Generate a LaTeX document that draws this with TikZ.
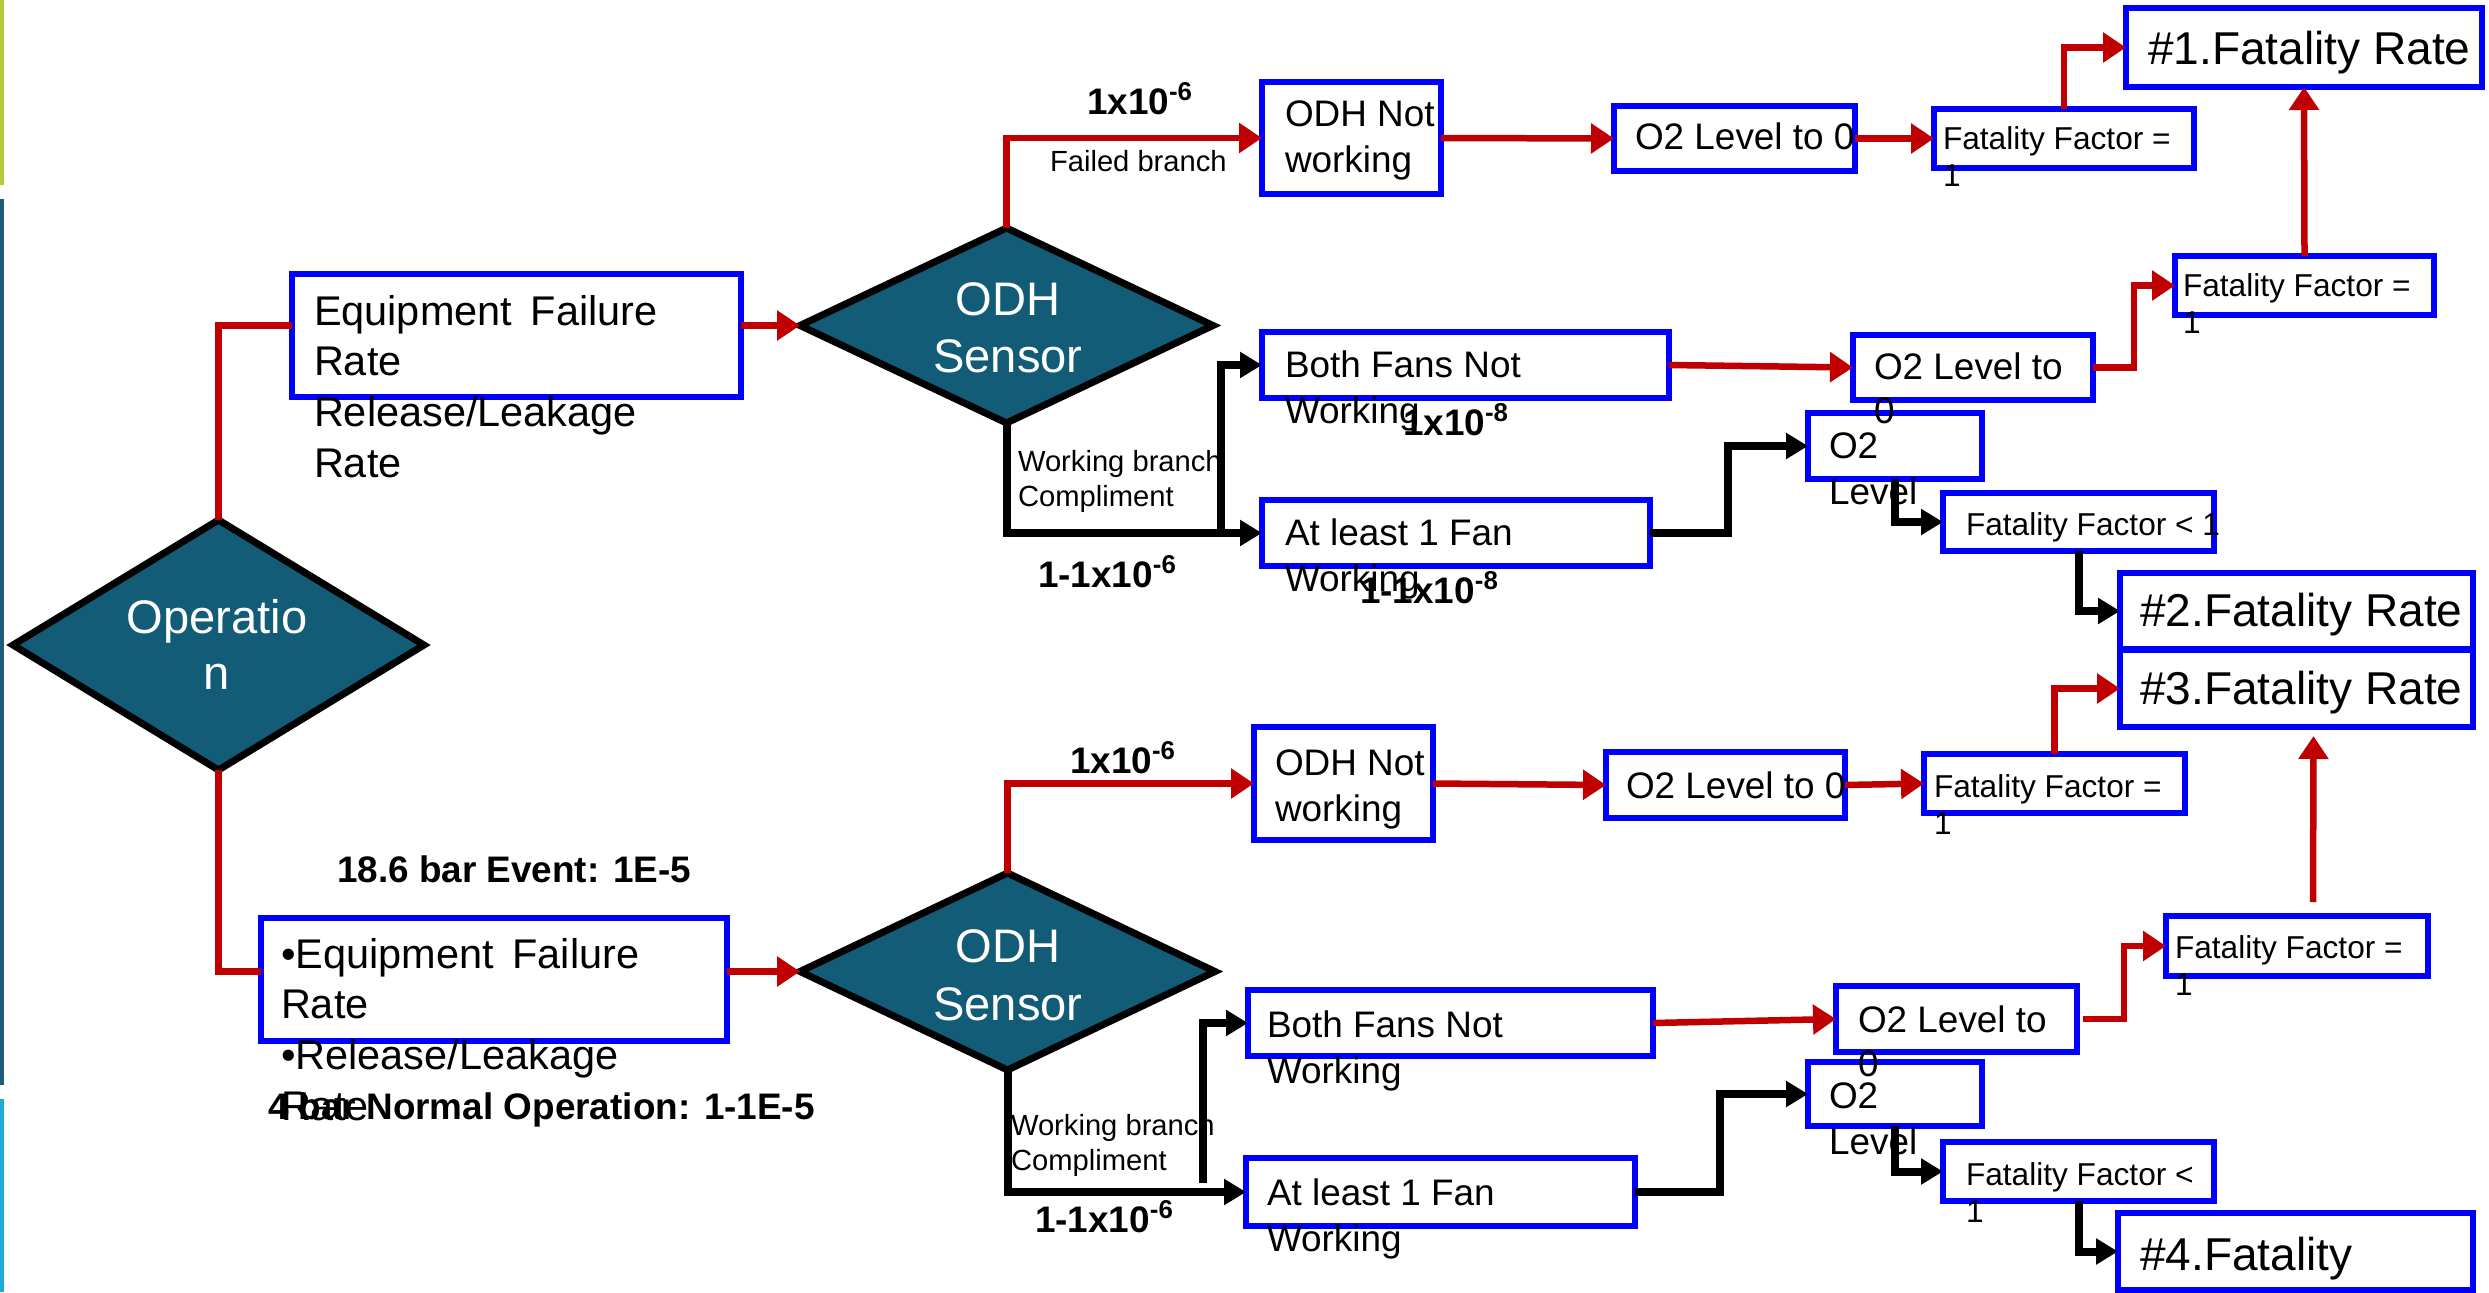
\documentclass[tikz,border=0pt]{standalone}
\usepackage{fontspec}
\setmainfont{Liberation Sans}
\usetikzlibrary{shapes.geometric,arrows.meta,fit}

\definecolor{bblue}{RGB}{0,0,255}
\definecolor{rred}{RGB}{192,0,0}
\definecolor{diateal}{RGB}{18,92,120}
\definecolor{barA}{RGB}{176,206,60}
\definecolor{barB}{RGB}{30,92,122}
\definecolor{barC}{RGB}{30,172,215}

% stacked lines: first baseline is the box baseline
\newcommand\lnl[2]{\vtop{\baselineskip=#1\relax\lineskiplimit=-100pt\lineskip=0pt\halign{##\hfil\cr#2\crcr}}}
\newcommand\lnc[2]{\vtop{\baselineskip=#1\relax\lineskiplimit=-100pt\lineskip=0pt\halign{\hfil##\hfil\cr#2\crcr}}}

\newcommand\fs[1]{\fontsize{#1}{#1}\selectfont}

\begin{document}
\begin{tikzpicture}[x=0.1mm,y=-0.1mm,
  bx/.style={draw=bblue, line width=0.55mm, rectangle, inner sep=0pt, outer sep=0pt},
  dia/.style={diamond, draw=black, fill=diateal, line width=0.7mm, inner sep=0pt, outer sep=0pt},
  rl/.style={draw=rred, line width=0.65mm},
  ra/.style={rl, -{Triangle[length=2.3mm,width=2.9mm]}},
  bl/.style={draw=black, line width=0.8mm},
  ba/.style={bl, -{Triangle[length=2.2mm,width=2.5mm]}},
  txt/.style={inner sep=0pt, outer sep=0pt, anchor=base west},
  ctxt/.style={inner sep=0pt, outer sep=0pt, anchor=base, text=white},
  eqf/.style={font=\fs{11.8pt}},
  boxf/.style={font=\fs{10.5pt}},
  diaf/.style={font=\fs{13.4pt}},
  ratef/.style={font=\fs{13.1pt}},
  fff/.style={font=\fs{9pt}},
  smf/.style={font=\fs{8.3pt}},
  bdf/.style={font=\fs{10.5pt}\bfseries},
]
\useasboundingbox (0,0) rectangle (2489,1292);

% coloured side bars
\fill[barA] (0,0) rectangle (4,185);
\fill[barB] (0,199) rectangle (4,1085);
\fill[barC] (0,1099) rectangle (4,1292);

% decision diamonds
\node[dia, minimum width=41.1mm, minimum height=25mm] (op) at (218.5,645) {};
\node[dia, minimum width=41.3mm, minimum height=19.5mm] (odh1) at (1006.5,325.5) {};
\node[dia, minimum width=41.5mm, minimum height=19.7mm] (odh2) at (1007.5,971.5) {};

% boxes
\node[bx, fit={(292,274)(741,397)}] (eq1) {};
\node[bx, fit={(261,918)(727,1041)}] (eq2) {};
\node[bx, fit={(1262,82)(1441,194)}] (odhn1) {};
\node[bx, fit={(1262,332)(1669,398)}] (fans1) {};
\node[bx, fit={(1262,500)(1650,566)}] (least1) {};
\node[bx, fit={(1614,106)(1855,171)}] (o2z1) {};
\node[bx, fit={(1934,109)(2194,168)}] (ff1) {};
\node[bx, fit={(2126,8)(2482,87)}] (r1) {};
\node[bx, fit={(2175,256)(2434,315)}] (ff2) {};
\node[bx, fit={(1853,335)(2093,400)}] (o2m1) {};
\node[bx, fit={(1808,413)(1982,479)}] (o2l1) {};
\node[bx, fit={(1943,493)(2214,551)}] (ffl1) {};
\node[bx, fit={(2120,573)(2473,649)}] (r2) {};
\node[bx, fit={(2120,650)(2473,727)}] (r3) {};
\node[bx, fit={(1254,727)(1433,840)}] (odhn2) {};
\node[bx, fit={(1606,752)(1845,818)}] (o2z2) {};
\node[bx, fit={(1924,754)(2185,813)}] (ff3) {};
\node[bx, fit={(2166,916)(2428,976)}] (ff4) {};
\node[bx, fit={(1248,990)(1653,1056)}] (fans2) {};
\node[bx, fit={(1836,986)(2077,1052)}] (o2m2) {};
\node[bx, fit={(1246,1158)(1635,1226)}] (least2) {};
\node[bx, fit={(1808,1062)(1982,1126)}] (o2l2) {};
\node[bx, fit={(1943,1142)(2214,1201)}] (ffl2) {};
\node[bx, fit={(2118,1213)(2473,1290)}] (r4) {};

% junctions of the working branches
\coordinate (j1) at (1221,533);
\coordinate (j2) at (1203,1183);

% red (failure) paths
\draw[rl] (op.north) |- (eq1.west |- odh1.west);
\draw[ra] (eq1.east |- odh1.west) -- (odh1.west);
\draw[rl] (op.south) |- (eq2.west |- odh2.west);
\draw[ra] (eq2.east |- odh2.west) -- (odh2.west);

\draw[ra] (odh1.north) |- (odhn1.west);
\draw[ra] (odhn1.east) -- (o2z1.west);
\draw[ra] (o2z1.east) -- (ff1.west);
\draw[ra] (ff1.north) |- (r1.west);
\draw[ra] (ff2.north) -- (r1.south);
\draw[ra] (fans1.east) -- (o2m1.west);
\draw[ra] (o2m1.east) -- ++(41,0) |- (ff2.west);

\draw[ra] (odh2.north) |- (odhn2.west);
\draw[ra] (odhn2.east) -- (o2z2.west);
\draw[ra] (o2z2.east) -- (ff3.west);
\draw[ra] (ff3.north) |- (r3.west);
\draw[ra] ([shift={(16,-14)}]ff4.north) -- ([shift={(17,9)}]r3.south);
\draw[ra] (fans2.east) -- (o2m2.west);
\draw[ra] ([xshift=0.6mm]o2m2.east) -- ++(41,0) |- (ff4.west);

% black (working) paths
\draw[ba] (odh1.south) |- (least1.west);
\draw[ba] (j1) |- (fans1.west);
\draw[ba] (least1.east) -- ++(78,0) |- (o2l1.west);
\draw[ba] (o2l1.south) |- (ffl1.west);
\draw[ba] (ffl1.south) |- (r2.west);

\draw[ba] (odh2.south) |- (least2.west);
\draw[ba] (j2) |- (fans2.west);
\draw[ba] (least2.east) -- ++(85,0) |- (o2l2.west);
\draw[ba] (o2l2.south) |- (ffl2.west);
\draw[ba] (ffl2.south) |- (r4.west);

% texts in the diamonds
\node[ctxt, diaf] (opt) at (217,633) {\lnc{16.2pt}{Operatio\cr n}};
\node[ctxt, diaf] (odht1) at (1008,315) {\lnc{16.5pt}{ODH\cr Sensor}};
\node[ctxt, diaf] (odht2) at (1008,962) {\lnc{16.5pt}{ODH\cr Sensor}};

% texts of the boxes
\node[txt, eqf] (eqt1) at (314,325) {\lnl{14.5pt}{Equipment\hspace{0.45em}Failure\cr Rate\cr Release/Leakage\cr Rate}};
\node[txt, eqf] (eqt2) at (281,968) {\lnl{14.5pt}{\textbullet Equipment\hspace{0.45em}Failure\cr Rate\cr \textbullet Release/Leakage\cr Rate}};

\node[txt, boxf] (odhnt1) at (1285,126) {\lnl{13.1pt}{ODH Not\cr working}};
\node[txt, boxf] (fanst1) at (1285,377) {\lnl{13.1pt}{Both Fans Not\cr Working}};
\node[txt, boxf] (leastt1) at (1285,545) {\lnl{13.1pt}{At least 1 Fan\cr Working}};
\node[txt, boxf] (o2zt1) at (1635,149) {O2 Level to 0};
\node[txt, boxf] (o2mt1) at (1874,379) {\lnl{12.8pt}{O2 Level to\cr 0}};
\node[txt, boxf] (o2lt1) at (1829,458) {\lnl{13.1pt}{O2\cr Level}};

\node[txt, boxf] (odhnt2) at (1275,775) {\lnl{13.1pt}{ODH Not\cr working}};
\node[txt, boxf] (fanst2) at (1267,1037) {\lnl{13.1pt}{Both Fans Not\cr Working}};
\node[txt, boxf] (leastt2) at (1267,1205) {\lnl{13.1pt}{At least 1 Fan\cr Working}};
\node[txt, boxf] (o2zt2) at (1626,798) {O2 Level to 0};
\node[txt, boxf] (o2mt2) at (1858,1032) {\lnl{12.8pt}{O2 Level to\cr 0}};
\node[txt, boxf] (o2lt2) at (1829,1108) {\lnl{13.1pt}{O2\cr Level}};

\node[txt, fff] (fft1) at (1943,149) {\lnl{10.8pt}{Fatality Factor =\cr 1}};
\node[txt, fff] (fft2) at (2183,296) {\lnl{10.8pt}{Fatality Factor =\cr 1}};
\node[txt, fff] (fflt1) at (1966,535) {Fatality Factor < 1};
\node[txt, fff] (fft3) at (1934,797) {\lnl{10.8pt}{Fatality Factor =\cr 1}};
\node[txt, fff] (fft4) at (2175,958) {\lnl{10.8pt}{Fatality Factor =\cr 1}};
\node[txt, fff] (fflt2) at (1966,1185) {\lnl{10.8pt}{Fatality Factor <\cr 1}};

\node[txt, ratef] (rt1) at (2148,64) {\#1.Fatality Rate};
\node[txt, ratef] (rt2) at (2140,626) {\#2.Fatality Rate};
\node[txt, ratef] (rt3) at (2140,704) {\#3.Fatality Rate};
\node[txt, ratef] (rt4) at (2140,1270) {\#4.Fatality};

% branch labels
\node[txt, bdf] (p1) at (1087,114) {1x10\textsuperscript{-6}};
\node[txt, smf] (fb1) at (1050,171) {Failed branch};
\node[txt, smf] (wb1) at (1018,471) {\lnl{10.2pt}{Working branch\cr Compliment}};
\node[txt, bdf] (p2) at (1038,587) {1-1x10\textsuperscript{-6}};
\node[txt, bdf] (p3) at (1403,435) {1x10\textsuperscript{-8}};
\node[txt, bdf] (p4) at (1360,603) {1-1x10\textsuperscript{-8}};

\node[txt, bdf] (p5) at (1070,773) {1x10\textsuperscript{-6}};
\node[txt, smf] (wb2) at (1011,1135) {\lnl{10.2pt}{Working branch\cr Compliment}};
\node[txt, bdf] (p6) at (1035,1232) {1-1x10\textsuperscript{-6}};

\node[txt, bdf] (ev1) at (337,882) {18.6 bar Event: 1E-5};
\node[txt, bdf] (ev2) at (268,1119) {4 bar Normal Operation: 1-1E-5};

\end{tikzpicture}
\end{document}
